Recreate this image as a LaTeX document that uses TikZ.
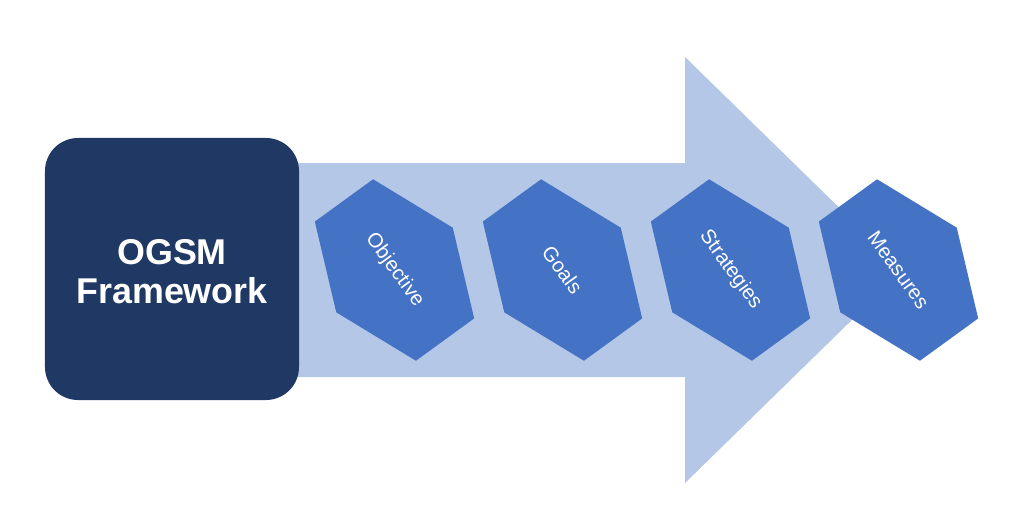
\documentclass[tikz,border=0pt]{standalone}
\usepackage{fontspec}
\setmainfont{Liberation Sans}
\usepackage{xcolor}
\definecolor{arrowBlue}{HTML}{B4C7E7}
\definecolor{hexBlue}{HTML}{4472C4}
\definecolor{frameNavy}{HTML}{203864}
\usepackage{tikz}
\usetikzlibrary{positioning}

\begin{document}
\begin{tikzpicture}[x=0.25mm, y=-0.25mm,
    every node/.style={text=white},
    framebox/.style={fill=frameNavy, rounded corners=8.25mm, minimum width=63.5mm,
                     minimum height=65.5mm, align=center, inner sep=0pt,
                     font=\fontsize{25.5}{27.7}\selectfont\bfseries},
    hexlabel/.style={rotate=-54, inner sep=1pt, font=\fontsize{14.5}{18}\selectfont},
    hexfill/.style={fill=hexBlue}]
  \useasboundingbox (0,0) rectangle (1024,517);
  % big arrow behind everything
  \fill[arrowBlue] (290,163) -- (685,163) -- (685,57) -- (903,270)
                   -- (685,483) -- (685,377) -- (290,377) -- cycle;
  \node[framebox] (ogsm) at (172,269) {};
  \node[align=center, inner sep=0pt, font=\fontsize{25.5}{27.7}\selectfont\bfseries]
    (ogsmtext) at (172,272) {OGSM\\Framework};
  % the four steps
  \foreach \name/\label [count=\i from 0] in
      {obj/Objective, goals/Goals, strat/Strategies, meas/Measures} {
    \fill[hexfill, shift={({394.5+168*\i},270)}, rotate=-54]
      (0,-72) -- (86,-36) -- (86,36) -- (0,72) -- (-86,36) -- (-86,-36) -- cycle;
    \node[hexlabel] (\name) at ({394.5+168*\i},270) {\label};
  }
\end{tikzpicture}
\end{document}
